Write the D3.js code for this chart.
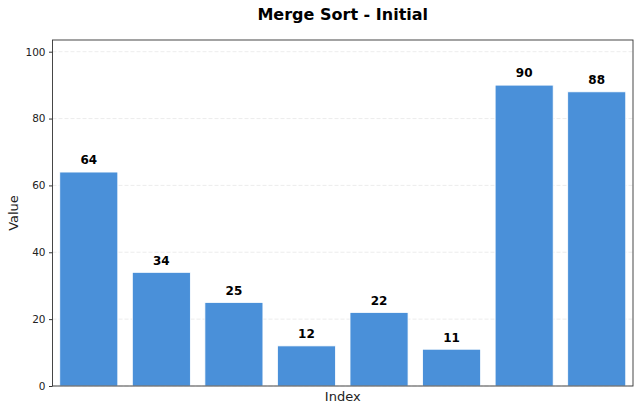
<!DOCTYPE html>
<html>
<head>
<meta charset="utf-8">
<title>Merge Sort - Initial</title>
<script src="https://d3js.org/d3.v7.min.js"></script>
<style>
  body { margin: 0; background: #fff; }
  text { font-family: "DejaVu Sans", sans-serif; }
</style>
</head>
<body>
<script>
// data
var indices = [0, 1, 2, 3, 4, 5, 6, 7];
var values = [64, 34, 25, 12, 22, 11, 90, 88];
var yTicks = [0, 20, 40, 60, 80, 100];

var width = 640, height = 411;
var margin = {top: 40, right: 7, bottom: 25, left: 52.5};

var svg = d3.select("body").append("svg")
    .attr("width", width)
    .attr("height", height);

var x = d3.scaleBand()
    .domain(indices)
    .range([margin.left, width - margin.right])
    .paddingInner(0.2)
    .paddingOuter(0.1);

var y = d3.scaleLinear()
    .domain([0, d3.max(values) * 1.15])
    .range([height - margin.bottom, margin.top]);

// grid
svg.append("g")
    .selectAll("line")
    .data(yTicks)
    .enter().append("line")
    .attr("x1", margin.left)
    .attr("x2", width - margin.right)
    .attr("y1", function(d) { return y(d); })
    .attr("y2", function(d) { return y(d); })
    .attr("stroke", "#b0b0b0")
    .attr("stroke-opacity", 0.3)
    .attr("stroke-dasharray", "4,2")
    .attr("stroke-width", 0.8);

// bars
svg.append("g")
    .selectAll("rect")
    .data(values)
    .enter().append("rect")
    .attr("x", function(d, i) { return x(indices[i]); })
    .attr("y", function(d) { return y(d); })
    .attr("width", x.bandwidth())
    .attr("height", function(d) { return y(0) - y(d); })
    .attr("fill", "#4a90d9")
    .attr("stroke", "#ffffff")
    .attr("stroke-width", 0.8);

// value labels
svg.append("g")
    .selectAll("text")
    .data(values)
    .enter().append("text")
    .attr("x", function(d, i) { return x(indices[i]) + x.bandwidth() / 2; })
    .attr("y", function(d) { return y(d + 2) - 1; })
    .attr("text-anchor", "middle")
    .attr("font-size", "12px")
    .attr("font-weight", "bold")
    .attr("fill", "#000")
    .text(function(d) { return d; });

// y axis
var yAxis = svg.append("g")
    .attr("transform", "translate(" + margin.left + ",0)")
    .call(d3.axisLeft(y).tickValues(yTicks).tickSize(3.5).tickPadding(3.5));
yAxis.select(".domain").remove();
yAxis.selectAll("text").attr("font-size", "10.5px").attr("fill", "#222")
    .style("font-family", "DejaVu Sans, sans-serif");
yAxis.selectAll("line").attr("stroke", "#333");

// frame
svg.append("rect")
    .attr("x", margin.left)
    .attr("y", margin.top)
    .attr("width", width - margin.left - margin.right)
    .attr("height", height - margin.top - margin.bottom)
    .attr("fill", "none")
    .attr("stroke", "#333")
    .attr("stroke-width", 0.9);

// title and labels
svg.append("text")
    .attr("x", (margin.left + width - margin.right) / 2)
    .attr("y", 20)
    .attr("text-anchor", "middle")
    .attr("font-size", "16px")
    .attr("font-weight", "bold")
    .text("Merge Sort - Initial");

svg.append("text")
    .attr("x", (margin.left + width - margin.right) / 2)
    .attr("y", 401)
    .attr("text-anchor", "middle")
    .attr("font-size", "13px")
    .attr("fill", "#222")
    .text("Index");

svg.append("text")
    .attr("transform", "translate(18," + ((margin.top + height - margin.bottom) / 2) + ") rotate(-90)")
    .attr("text-anchor", "middle")
    .attr("font-size", "13px")
    .attr("fill", "#222")
    .text("Value");
</script>
</body>
</html>
